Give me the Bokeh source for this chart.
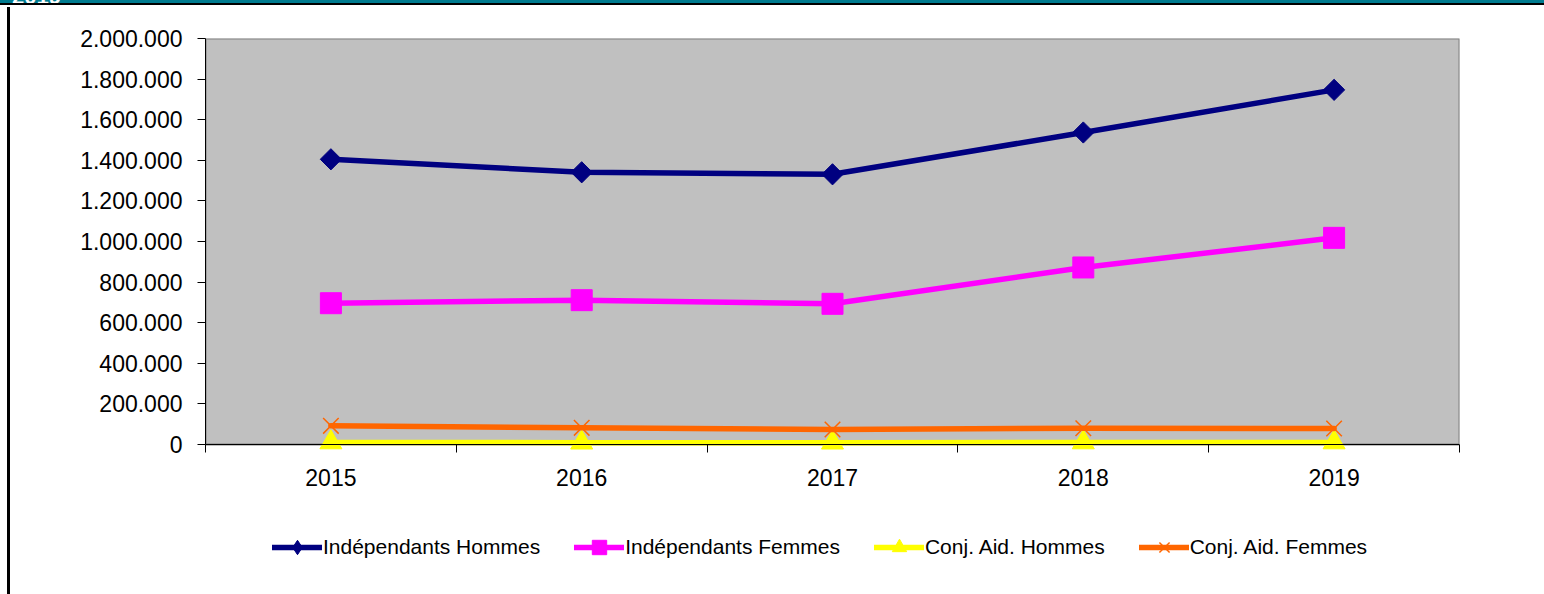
from bokeh.plotting import figure
from bokeh.models import Range1d, FixedTicker, Legend, LegendItem, Div, Span
from bokeh.layouts import column
from bokeh.embed import file_html
from bokeh.resources import INLINE
import math

# ---- data ----
years = ["2015", "2016", "2017", "2018", "2019"]
indep_hommes = [1405000, 1341000, 1331000, 1537000, 1747000]
indep_femmes = [696000, 711000, 693000, 872000, 1018000]
conj_hommes = [10000, 9000, 9000, 10000, 10000]
conj_femmes = [92000, 82000, 74000, 80000, 79000]
series_names = ["Indépendants Hommes", "Indépendants Femmes",
                "Conj. Aid. Hommes", "Conj. Aid. Femmes"]
y_ticks = [0, 200000, 400000, 600000, 800000, 1000000,
           1200000, 1400000, 1600000, 1800000, 2000000]
y_tick_labels = ["0", "200.000", "400.000", "600.000", "800.000", "1.000.000",
                 "1.200.000", "1.400.000", "1.600.000", "1.800.000", "2.000.000"]
top_title = "2019"

# ---- styles ----
FONT = "Liberation Sans"
NAVY, PINK, YELLOW, ORANGE = "#000080", "#FF00FF", "#FFFF00", "#FF6600"
styles = [
    dict(color=NAVY, marker="square", leg_marker="diamond", size=15, angle=math.pi / 4, lw=1),
    dict(color=PINK, marker="square", leg_marker="square", size=21, angle=0, lw=1),
    dict(color=YELLOW, marker="triangle", leg_marker="triangle", size=22, angle=0, lw=1),
    dict(color=ORANGE, marker="x", leg_marker="x", size=22, angle=0, lw=1.5),
]
series = [indep_hommes, indep_femmes, conj_hommes, conj_femmes]

x = [i + 0.5 for i in range(len(years))]

PLOT_H = 406      # pixel height of the value range 0 .. 2.000.000
EXTRA_PX = 12     # room under value 0 so the markers at 0 are not cut
y_min, y_max = y_ticks[0], y_ticks[-1]
y_start = y_min - EXTRA_PX * (y_max - y_min) / PLOT_H

LEFT, RIGHT = 205, 85
TOP, MAIN_H = 38, 500
p = figure(width=1544, height=MAIN_H,
           x_range=Range1d(0, len(years)), y_range=Range1d(y_start, y_max),
           output_backend="svg", toolbar_location=None,
           min_border_left=LEFT, min_border_right=RIGHT,
           min_border_top=TOP, min_border_bottom=MAIN_H - TOP - PLOT_H - EXTRA_PX,
           background_fill_color="white", border_fill_color="white",
           outline_line_color=None)
p.grid.grid_line_color = None

# grey plot area with grey border
p.quad(left=[p.x_range.start], right=[p.x_range.end], bottom=[y_min], top=[y_max],
       fill_color="#C0C0C0", line_color="#808080", line_width=2)
# category axis line at value 0
p.add_layout(Span(location=y_min, dimension="width", line_color="black", line_width=1))

# x axis (its own line hidden; ticks drawn up to the value-0 line)
p.xaxis.ticker = FixedTicker(ticks=x, minor_ticks=list(range(len(years) + 1)))
p.xaxis.major_label_overrides = {xv: yr for xv, yr in zip(x, years)}
p.xaxis.axis_line_color = None
p.xaxis.major_tick_line_color = None
p.xaxis.major_tick_in = 0
p.xaxis.major_tick_out = 0
p.xaxis.minor_tick_line_color = "black"
p.xaxis.minor_tick_in = EXTRA_PX
p.xaxis.minor_tick_out = 8 - EXTRA_PX
p.xaxis.major_label_standoff = 12
p.xaxis.major_label_text_font = FONT
p.xaxis.major_label_text_font_size = "23px"
p.xaxis.major_label_text_color = "black"

# y axis
p.yaxis.bounds = (y_min, y_max)
p.yaxis.ticker = FixedTicker(ticks=y_ticks)
p.yaxis.major_label_overrides = {t: l for t, l in zip(y_ticks, y_tick_labels)}
p.yaxis.axis_line_color = "black"
p.yaxis.major_tick_line_color = "black"
p.yaxis.major_tick_in = 0
p.yaxis.major_tick_out = 8
p.yaxis.minor_tick_line_color = None
p.yaxis.major_label_standoff = 15
p.yaxis.major_label_text_font = FONT
p.yaxis.major_label_text_font_size = "23px"
p.yaxis.major_label_text_color = "black"

for ys, st in zip(series, styles):
    p.line(x, ys, line_color=st["color"], line_width=5.5,
           line_join="round", line_cap="round")
    p.scatter(x, ys, marker=st["marker"], size=st["size"], angle=st["angle"],
              fill_color=st["color"], line_color=st["color"], line_width=st["lw"])

# ---- legend strip below (its view range excludes the data, so only the legend shows) ----
LEG_H = 594 - MAIN_H
lf = figure(width=1544, height=LEG_H, x_range=Range1d(0, len(years)),
            y_range=Range1d(-2, -1),
            output_backend="svg", toolbar_location=None,
            x_axis_location=None, y_axis_location=None,
            min_border_left=LEFT, min_border_right=RIGHT,
            min_border_top=0, min_border_bottom=0,
            background_fill_color="white", border_fill_color="white",
            outline_line_color=None)
lf.grid.grid_line_color = None
items = []
for name, ys, st in zip(series_names, series, styles):
    lr = lf.line(x, ys, line_color=st["color"], line_width=5.5, line_cap="round")
    mr = lf.scatter(x, ys, marker=st["leg_marker"],
                    fill_color=st["color"], line_color=st["color"], line_width=st["lw"])
    items.append(LegendItem(label=name, renderers=[lr, mr]))

legend = Legend(items=items, orientation="horizontal", location=(272 - LEFT, 29),
                glyph_width=50, glyph_height=36, label_standoff=1, spacing=34,
                padding=0, margin=0, border_line_color=None,
                background_fill_alpha=0,
                label_text_font=FONT, label_text_font_size="21px",
                label_text_color="black")
lf.add_layout(legend)

layout = column(p, lf, spacing=0)

band = Div(text=('<div style="position:relative;top:-13px;left:12px;'
                 'font-family:Liberation Sans;font-weight:bold;font-size:22px;'
                 'line-height:20px;color:white;">' + top_title + '</div>'),
           margin=0,
           styles={"position": "fixed", "top": "0px", "left": "0px",
                   "width": "1544px", "height": "5px", "overflow": "hidden",
                   "background-color": "#007B8F",
                   "border-bottom": "2px solid black"})
left_bar = Div(text="", margin=0,
               styles={"position": "fixed", "top": "7px", "left": "7px",
                       "width": "3px", "height": "587px",
                       "background-color": "black"})

open("out.html", "w").write(file_html([layout, band, left_bar], INLINE))
